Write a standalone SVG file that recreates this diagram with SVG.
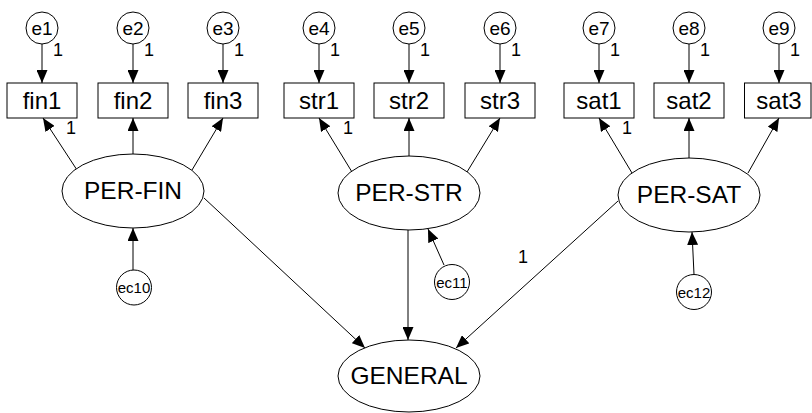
<svg xmlns="http://www.w3.org/2000/svg" width="812" height="413" viewBox="0 0 812 413">
<defs>
<marker id="ah" viewBox="0 0 13 11" refX="13" refY="5.5" markerWidth="13" markerHeight="11" markerUnits="userSpaceOnUse" orient="auto">
<path d="M0,0 L13,5.5 L0,11 Z" fill="#000"/>
</marker>
<style>
.n{fill:#fff;stroke:#000;stroke-width:1}
.t{font-family:"Liberation Sans",Arial,sans-serif;fill:#000;text-anchor:middle}
.box{font-size:24px}
.lat{font-size:24.5px}
.err{font-size:19px}
.ec{font-size:15px}
.w{font-family:"Liberation Sans",Arial,sans-serif;font-size:18px;fill:#000}
.c line{stroke:#000;stroke-width:1;marker-end:url(#ah)}
</style>
</defs>
<rect width="812" height="413" fill="#fff"/>
<g class="c" id="connectors">
<line x1="42" y1="44" x2="42" y2="83"/>
<line x1="133" y1="44" x2="133" y2="83"/>
<line x1="223" y1="44" x2="223" y2="83"/>
<line x1="319" y1="44" x2="319" y2="83"/>
<line x1="409" y1="44" x2="409" y2="83"/>
<line x1="500" y1="44" x2="500" y2="83"/>
<line x1="599" y1="44" x2="599" y2="83"/>
<line x1="689" y1="44" x2="689" y2="83"/>
<line x1="779" y1="44" x2="779" y2="83"/>
<line x1="77" y1="170" x2="43" y2="118"/>
<line x1="133" y1="154" x2="133" y2="118"/>
<line x1="192" y1="170" x2="223" y2="118"/>
<line x1="352" y1="172" x2="319" y2="118"/>
<line x1="409" y1="156" x2="409" y2="118"/>
<line x1="467" y1="172" x2="500" y2="118"/>
<line x1="632" y1="173" x2="599" y2="118"/>
<line x1="689" y1="158" x2="689" y2="118"/>
<line x1="748" y1="173" x2="779" y2="118"/>
<line x1="133" y1="270" x2="133" y2="228"/>
<line x1="444" y1="265" x2="428" y2="229"/>
<line x1="694" y1="274.5" x2="692" y2="232"/>
<line x1="204" y1="198" x2="365" y2="348"/>
<line x1="408" y1="230" x2="408" y2="340"/>
<line x1="618" y1="201" x2="456" y2="348"/>
</g>
<g id="e1"><circle class="n" cx="42" cy="28" r="16"/><text class="t err" x="42" y="35">e1</text></g>
<g id="e2"><circle class="n" cx="133" cy="28" r="16"/><text class="t err" x="133" y="35">e2</text></g>
<g id="e3"><circle class="n" cx="223" cy="28" r="16"/><text class="t err" x="223" y="35">e3</text></g>
<g id="e4"><circle class="n" cx="319" cy="28" r="16"/><text class="t err" x="319" y="35">e4</text></g>
<g id="e5"><circle class="n" cx="409" cy="28" r="16"/><text class="t err" x="409" y="35">e5</text></g>
<g id="e6"><circle class="n" cx="500" cy="28" r="16"/><text class="t err" x="500" y="35">e6</text></g>
<g id="e7"><circle class="n" cx="599" cy="28" r="16"/><text class="t err" x="599" y="35">e7</text></g>
<g id="e8"><circle class="n" cx="689" cy="28" r="16"/><text class="t err" x="689" y="35">e8</text></g>
<g id="e9"><circle class="n" cx="779" cy="28" r="16"/><text class="t err" x="779" y="35">e9</text></g>
<g id="fin1"><rect class="n" x="7" y="83" width="70" height="35"/><text class="t box" x="42" y="109">fin1</text></g>
<g id="fin2"><rect class="n" x="98" y="83" width="70" height="35"/><text class="t box" x="133" y="109">fin2</text></g>
<g id="fin3"><rect class="n" x="188" y="83" width="70" height="35"/><text class="t box" x="223" y="109">fin3</text></g>
<g id="str1"><rect class="n" x="284" y="83" width="70" height="35"/><text class="t box" x="319" y="109">str1</text></g>
<g id="str2"><rect class="n" x="374" y="83" width="70" height="35"/><text class="t box" x="409" y="109">str2</text></g>
<g id="str3"><rect class="n" x="465" y="83" width="70" height="35"/><text class="t box" x="500" y="109">str3</text></g>
<g id="sat1"><rect class="n" x="564" y="83" width="70" height="35"/><text class="t box" x="599" y="109">sat1</text></g>
<g id="sat2"><rect class="n" x="654" y="83" width="70" height="35"/><text class="t box" x="689" y="109">sat2</text></g>
<g id="sat3"><rect class="n" x="744.5" y="83" width="66.5" height="35"/><text class="t box" x="779" y="109">sat3</text></g>
<g id="PER-FIN"><ellipse class="n" cx="133" cy="191" rx="71" ry="37"/><text class="t lat" x="133" y="199">PER-FIN</text></g>
<g id="PER-STR"><ellipse class="n" cx="409" cy="193" rx="71" ry="37"/><text class="t lat" x="409" y="201">PER-STR</text></g>
<g id="PER-SAT"><ellipse class="n" cx="689" cy="195" rx="71" ry="37"/><text class="t lat" x="689" y="203">PER-SAT</text></g>
<g id="GENERAL"><ellipse class="n" cx="409" cy="376" rx="71" ry="36"/><text class="t lat" x="409" y="384">GENERAL</text></g>
<g id="ec10"><circle class="n" cx="134" cy="287.5" r="17.5"/><text class="t ec" x="134" y="293">ec10</text></g>
<g id="ec11"><circle class="n" cx="452" cy="282" r="17.5"/><text class="t ec" x="452" y="287.5">ec11</text></g>
<g id="ec12"><circle class="n" cx="694" cy="292" r="17.5"/><text class="t ec" x="694" y="297.5">ec12</text></g>
<g id="weights">
<text class="w" x="53" y="56">1</text>
<text class="w" x="144" y="56">1</text>
<text class="w" x="234" y="56">1</text>
<text class="w" x="330" y="56">1</text>
<text class="w" x="420" y="56">1</text>
<text class="w" x="511" y="56">1</text>
<text class="w" x="610" y="56">1</text>
<text class="w" x="700" y="56">1</text>
<text class="w" x="790" y="56">1</text>
<text class="w" x="66" y="134">1</text>
<text class="w" x="343" y="134">1</text>
<text class="w" x="622" y="134">1</text>
<text class="w" x="518" y="263">1</text>
</g>
</svg>
